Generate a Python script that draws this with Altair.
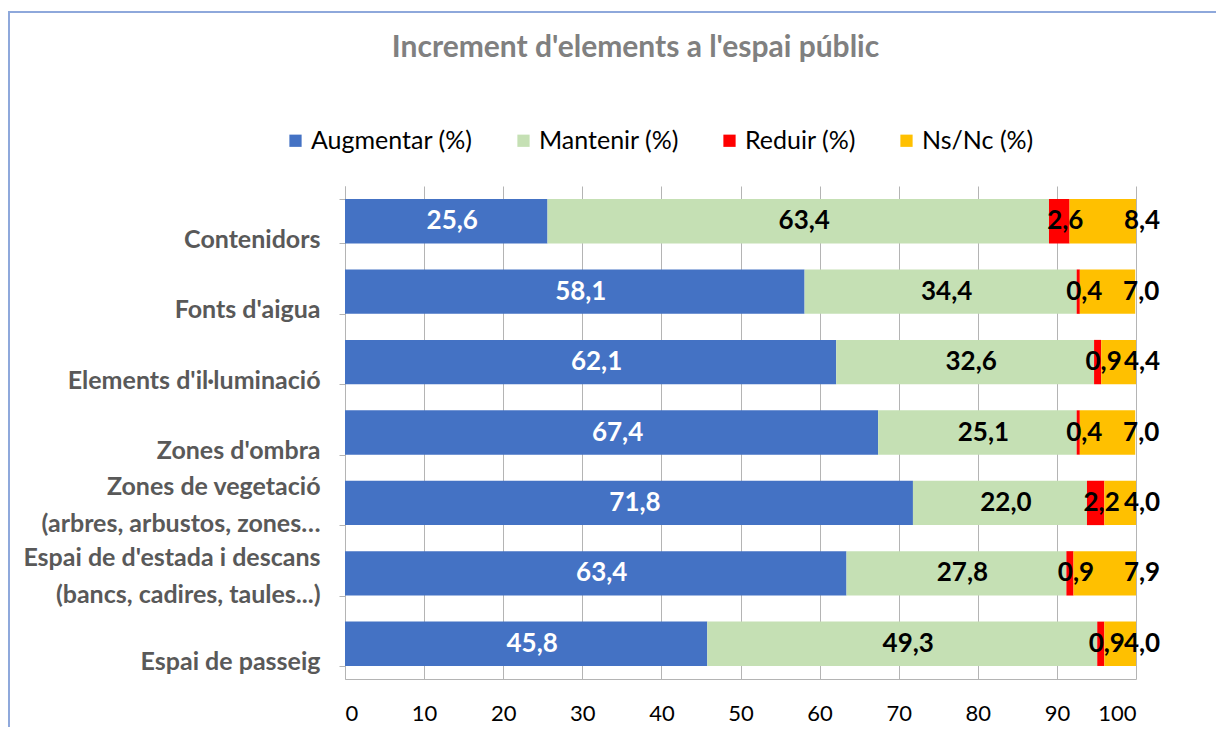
import altair as alt
import pandas as pd

categories = [
    "Contenidors",
    "Fonts d'aigua",
    "Elements d'il·luminació",
    "Zones d'ombra",
    "Zones de vegetació\n(arbres, arbustos, zones…",
    "Espai de d'estada i descans\n(bancs, cadires, taules...)",
    "Espai de passeig",
]
series = ["Augmentar (%)", "Mantenir (%)", "Reduir (%)", "Ns/Nc (%)"]
augmentar = [25.6, 58.1, 62.1, 67.4, 71.8, 63.4, 45.8]
mantenir = [63.4, 34.4, 32.6, 25.1, 22.0, 27.8, 49.3]
reduir = [2.6, 0.4, 0.9, 0.4, 2.2, 0.9, 0.9]
nsnc = [8.4, 7.0, 4.4, 7.0, 4.0, 7.9, 4.0]
colors = ["#4472C4", "#C5E0B4", "#FF0000", "#FFC000"]
x_ticks = [0, 10, 20, 30, 40, 50, 60, 70, 80, 90, 100]

rows = []
for si, (name, vals) in enumerate(zip(series, [augmentar, mantenir, reduir, nsnc])):
    for ci, cat in enumerate(categories):
        rows.append({"cat": cat, "serie": name, "ord": si, "value": vals[ci]})
df = pd.DataFrame(rows)

FONT = "Lato"
GRID = "#B4B4B4"

base = alt.Chart(df).transform_stack(
    stack="value", groupby=["cat"], as_=["x0", "x1"],
    sort=[alt.SortField("ord", order="ascending")]
).transform_calculate(
    labx="datum.ord == 3 ? datum.x1 : (datum.x0 + datum.x1) / 2",
    lab="replace(format(datum.value, '.1f'), '.', ',')",
)

y_enc = alt.Y(
    "cat:N", sort=categories, title=None,
    scale=alt.Scale(paddingInner=0.37, paddingOuter=0.185),
    axis=alt.Axis(
        labelExpr="split(datum.label, '\\n')",
        labelFont=FONT, labelFontSize=25, labelFontWeight="bold",
        labelColor="#595959", labelBaseline="bottom",
        labelOffset={"condition": {"test": "indexof(datum.label, '\\n') >= 0", "value": -3}, "value": 31},
        labelLineHeight=37, labelPadding=19, labelLimit=400,
        tickBand="extent", tickSize=6, tickColor=GRID,
        domainColor=GRID, grid=False,
    ),
)

bars = base.mark_bar().encode(
    y=y_enc,
    x=alt.X(
        "x0:Q", title=None,
        scale=alt.Scale(domain=[0, 100], nice=False),
        axis=alt.Axis(
            values=x_ticks, labelFont=FONT, labelFontSize=22, labelColor="#000000",
            labelPadding=24, ticks=False, domainColor=GRID,
            gridColor=GRID, grid=True,
        ),
    ),
    x2="x1:Q",
    color=alt.Color(
        "serie:N",
        scale=alt.Scale(domain=series, range=colors),
        legend=alt.Legend(
            title=None, orient="none", direction="horizontal",
            legendX=-62, legendY=-58, symbolType="square", symbolSize=150,
            symbolStrokeWidth=0, labelFont=FONT, labelFontSize=25,
            labelColor="#000000", columnPadding=38, labelOffset=3,
            labelLimit=300,
        ),
    ),
    order=alt.Order("ord:Q"),
)

texts = base.mark_text(font=FONT, fontSize=26, fontWeight="bold", dx=6).encode(
    y=alt.Y("cat:N", sort=categories),
    x=alt.X("labx:Q"),
    text="lab:N",
    color=alt.condition(
        alt.datum.serie == "Augmentar (%)", alt.value("#FFFFFF"), alt.value("#000000")
    ),
)

border_left = alt.Chart(df).mark_rule(color="#8EA9DB", strokeWidth=1.5).encode(
    x=alt.value(-336.5), y=alt.value(-174), y2=alt.value(541)
)
border_top = alt.Chart(df).mark_rule(color="#8EA9DB", strokeWidth=1.5).encode(
    x=alt.value(-336.5), x2=alt.value(880), y=alt.value(-174)
)

chart = alt.layer(bars, texts, border_left, border_top).properties(
    width=791, height=493,
    autosize="none",
    padding={"left": 337, "top": 178, "right": 80, "bottom": 48},
    title=alt.TitleParams(
        "Increment d'elements a l'espai públic",
        font=FONT, fontSize=30, fontWeight="bold", color="#808080",
        anchor="middle", frame="group", dx=-105, offset=-52,
    ),
).configure_view(stroke=None)

chart.save("out.html", embed_options={"renderer": "svg", "actions": False})
